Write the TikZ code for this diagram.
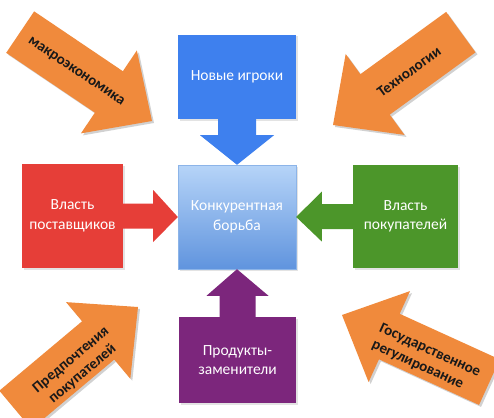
\documentclass[tikz,border=0pt]{standalone}
\usepackage{fontspec}
\setmainfont{Carlito}
\usetikzlibrary{calc,shadows}
\definecolor{orangeC}{RGB}{240,138,60}
\definecolor{blueC}{RGB}{62,128,238}
\definecolor{redC}{RGB}{230,62,56}
\definecolor{greenC}{RGB}{76,150,42}
\definecolor{purpleC}{RGB}{124,38,124}
\definecolor{ctop}{RGB}{182,212,248}
\definecolor{cbot}{RGB}{96,148,222}
\definecolor{cborder}{RGB}{140,180,232}
\newcommand\orarrow[4]{%
  \begin{scope}[shift={(#1+2,#2+2)},rotate=#3]
    \fill[black,opacity=0.18] (0,0) -- (-52,50) -- (-52,25) -- (-#4,25) -- (-#4,-25) -- (-52,-25) -- (-52,-50) -- cycle;
  \end{scope}
  \begin{scope}[shift={(#1,#2)},rotate=#3]
    \fill[orangeC] (0,0) -- (-52,50) -- (-52,25) -- (-#4,25) -- (-#4,-25) -- (-52,-25) -- (-52,-50) -- cycle;
  \end{scope}}
\tikzset{
  shad/.style={drop shadow={opacity=0.22,shadow xshift=1.5pt,shadow yshift=-1.5pt}},
  box/.style={rectangle, inner sep=2pt, shad, font=\fontsize{15.5}{19.5}\selectfont, text=white, align=center},
  ortext/.style={font=\bfseries\fontsize{15}{18}\selectfont, text=black!90, align=center, inner sep=0pt}
}
\begin{document}
\begin{tikzpicture}[x=1pt,y=-1pt]
\useasboundingbox (0,0) rectangle (494,417);
\fill[white] (0,0) rectangle (494,417);

% orange arrows
\orarrow{152}{121}{-34}{159}
\orarrow{333}{125}{-144}{158}
\orarrow{138}{307}{40}{160}
\orarrow{342}{315}{155.5}{162}
\node[ortext, rotate=-34] (macro) at (76,72) {макроэкономика};
\node[ortext, rotate=36] (tech) at (409,72) {Технологии};
\node[ortext, rotate=40] (pref) at (77,367) {Предпочтения\\покупателей};
\node[ortext, rotate=-24.5, align=left] (gov) at (426,359) {Государственное\\регулирование};

% boxes
\node[box, fill=blueC, minimum width=118pt, minimum height=84pt] (new) at (237,77) {Новые игроки};
\node[box, draw=cborder, top color=ctop, bottom color=cbot, minimum width=118pt, minimum height=104pt] (ctr) at (237,217) {Конкурентная\\борьба};
\node[box, fill=redC, minimum width=101pt, minimum height=104pt] (sup) at (72.5,216) {Власть\\поставщиков};
\node[box, fill=greenC, minimum width=105pt, minimum height=103pt] (buy) at (405.5,216.5) {Власть\\покупателей};
\node[box, fill=purpleC, minimum width=117pt, minimum height=86pt] (sub) at (237.5,360) {Продукты-\\заменители};

% block arrows
\fill[blueC] ($(new.south)+(-19,-1)$) -- ($(new.south)+(-19,16)$) -- ($(new.south)+(-37,16)$) -- (ctr.north) -- ($(new.south)+(37,16)$) -- ($(new.south)+(19,16)$) -- ($(new.south)+(19,-1)$) -- cycle;
\fill[redC] ($(sup.east)+(-1,-12.5)$) -- ($(sup.east)+(30,-12.5)$) -- ($(sup.east)+(30,-26)$) -- (ctr.west) -- ($(sup.east)+(30,26)$) -- ($(sup.east)+(30,12.5)$) -- ($(sup.east)+(-1,12.5)$) -- cycle;
\fill[greenC] ($(buy.west)+(1,-12.5)$) -- ($(buy.west)+(-31,-12.5)$) -- ($(buy.west)+(-31,-25)$) -- (ctr.east) -- ($(buy.west)+(-31,25)$) -- ($(buy.west)+(-31,12.5)$) -- ($(buy.west)+(1,12.5)$) -- cycle;
\fill[purpleC] ($(sub.north)+(-18,1)$) -- ($(sub.north)+(-18,-21)$) -- ($(sub.north)+(-31,-21)$) -- (ctr.south) -- ($(sub.north)+(31,-21)$) -- ($(sub.north)+(18,-21)$) -- ($(sub.north)+(18,1)$) -- cycle;
\end{tikzpicture}
\end{document}
